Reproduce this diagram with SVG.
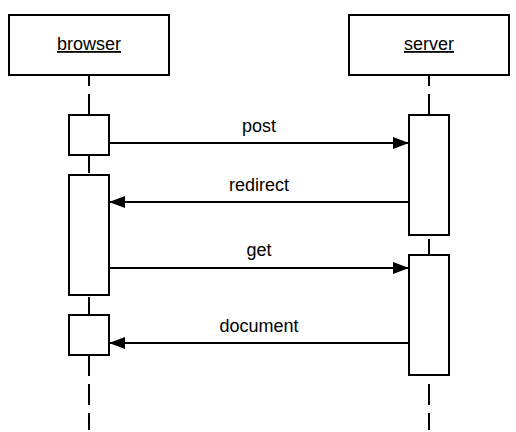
<svg xmlns="http://www.w3.org/2000/svg" width="516" height="432" viewBox="0 0 516 432">
<style>
.box{fill:#fff;stroke:#000;stroke-width:2}
.life{stroke:#000;stroke-width:2;stroke-dasharray:21 8;stroke-dashoffset:10;fill:none}
.msg{stroke:#000;stroke-width:2;fill:none}
text{font-family:"Liberation Sans",Arial,sans-serif;font-size:18px;fill:#000;text-anchor:middle}
.u{text-decoration:underline}
</style>
<defs>
<marker id="ah" markerWidth="16" markerHeight="12" refX="16" refY="6" orient="auto" markerUnits="userSpaceOnUse">
<path d="M0,0 L16,6 L0,12 Z" fill="#000"/>
</marker>
</defs>
<g id="lifelines">
<line class="life" x1="89" y1="75" x2="89" y2="430"/>
<line class="life" x1="429" y1="75" x2="429" y2="430"/>
</g>
<g id="browser">
<rect class="box" x="9" y="15" width="160" height="60"/>
<text class="u" x="89" y="50">browser</text>
</g>
<g id="server">
<rect class="box" x="349" y="15" width="160" height="60"/>
<text class="u" x="429" y="50">server</text>
</g>
<g id="activations">
<rect class="box" x="69" y="115" width="40" height="40"/>
<rect class="box" x="69" y="175" width="40" height="120"/>
<rect class="box" x="69" y="315" width="40" height="40"/>
<rect class="box" x="409" y="115" width="40" height="120"/>
<rect class="box" x="409" y="255" width="40" height="120"/>
</g>
<g id="connectors">
<line class="msg" x1="109" y1="143" x2="409" y2="143" marker-end="url(#ah)"/>
<line class="msg" x1="409" y1="202" x2="109" y2="202" marker-end="url(#ah)"/>
<line class="msg" x1="109" y1="268" x2="409" y2="268" marker-end="url(#ah)"/>
<line class="msg" x1="409" y1="343" x2="109" y2="343" marker-end="url(#ah)"/>
<text x="259" y="132">post</text>
<text x="259" y="191">redirect</text>
<text x="259" y="256">get</text>
<text x="259" y="332">document</text>
</g>
</svg>
